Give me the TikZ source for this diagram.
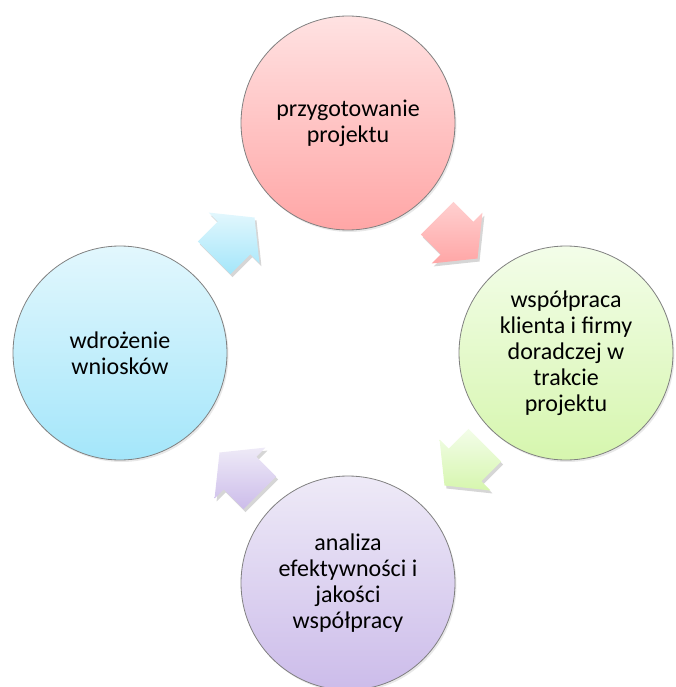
\documentclass[tikz,border=0pt]{standalone}
\usepackage{fontspec}
\setmainfont{Carlito}
\usetikzlibrary{shadows,calc}

\definecolor{redtop}{HTML}{FFE2E2}
\definecolor{redbot}{HTML}{FFA6A6}
\definecolor{greentop}{HTML}{F3FDE9}
\definecolor{greenbot}{HTML}{D6F6AE}
\definecolor{violettop}{HTML}{EEEAF7}
\definecolor{violetbot}{HTML}{CCBCEA}
\definecolor{bluetop}{HTML}{E2F7FD}
\definecolor{bluebot}{HTML}{A4E6FA}

\newcommand{\flowpath}{(-28,-23) -- (0,-23) -- (0,-36) -- (29,0) -- (0,36) -- (0,23) -- (-28,23) -- cycle}

\begin{document}
\begin{tikzpicture}[x=1pt,y=-1pt,
    stage/.style={circle, draw=black!50, line width=0.8pt, minimum size=214pt, inner sep=0pt, align=center,
      font=\fontsize{24}{26}\selectfont,
      drop shadow={opacity=0.18, shadow xshift=1.5pt, shadow yshift=-2pt}},
    flow/.pic={
      \fill[black, opacity=0.16, transform canvas={shift={(2pt,-3pt)}}] \flowpath;
      \shade[pic actions] \flowpath;}]

    \useasboundingbox (0,0) rectangle (675,687);

    \node[stage, top color=redtop, bottom color=redbot] (przyg) at (348,123) {przygotowanie\\projektu};
    \node[stage, top color=greentop, bottom color=greenbot] (wspol) at (566,353) {współpraca\\klienta i firmy\\doradczej w\\trakcie\\projektu};
    \node[stage, top color=violettop, bottom color=violetbot] (analiza) at (348,583) {analiza\\efektywności i\\jakości\\współpracy};
    \node[stage, top color=bluetop, bottom color=bluebot] (wdroz) at (120,353) {wdrożenie\\wniosków};

    % strzalki miedzy etapami
    \pic[rotate=-45, top color=redtop!70!redbot, bottom color=redbot] (s1) at ($(przyg)!0.5!(wspol)$) {flow};
    \pic[rotate=-135, top color=greentop, bottom color=greenbot] (s2) at ($(wspol)!0.5!(analiza)+(8,-3)$) {flow};
    \pic[rotate=135, top color=violettop, bottom color=violetbot] (s3) at ($(analiza)!0.5!(wdroz)+(6,5)$) {flow};
    \pic[rotate=45, top color=bluetop, bottom color=bluebot] (s4) at ($(wdroz)!0.5!(przyg)$) {flow};
    %
\end{tikzpicture}
\end{document}
